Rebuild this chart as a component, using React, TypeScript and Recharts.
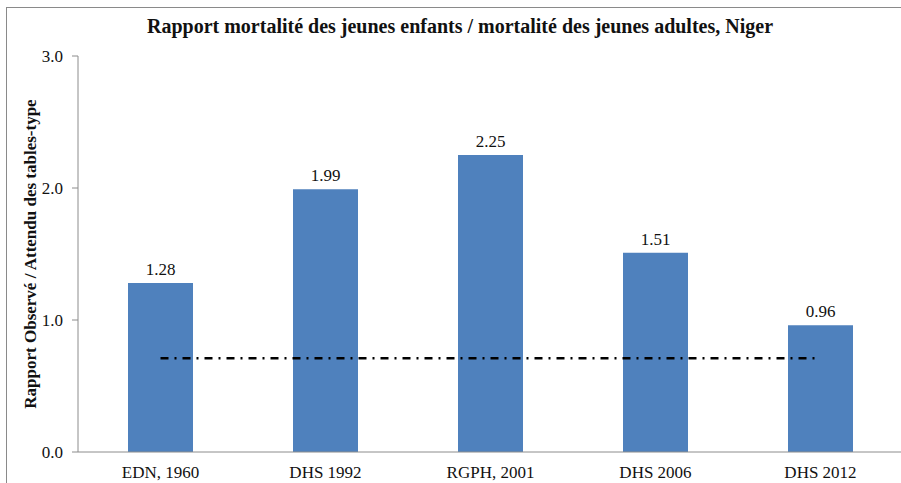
import { ComposedChart, Bar, Line, XAxis, YAxis, LabelList, Label } from "recharts";

const categories = ["EDN, 1960", "DHS 1992", "RGPH, 2001", "DHS 2006", "DHS 2012"];
const ratios = [1.28, 1.99, 2.25, 1.51, 0.96];
const expected = [0.71, 0.71, 0.71, 0.71, 0.71];
const yTicks = [0, 1, 2, 3];
const boundaryTicks = [0, 1, 2, 3, 4, 5];

const data = categories.map((name, i) => ({ name, ratio: ratios[i], expected: expected[i] }));

const serif = "Liberation Serif";

export default function App() {
  return (
    <div style={{ position: "fixed", left: 0, top: 0, width: 901, height: 483, overflow: "hidden", background: "#fff", fontFamily: serif }}>
      <div style={{ position: "absolute", left: 6, top: 7, width: 1000, height: 600, border: "1px solid #8a8a8a" }} />
      <div style={{ position: "absolute", left: 0, width: 920, top: 15, textAlign: "center", fontWeight: "bold", fontSize: 20, color: "#111" }}>
        Rapport mortalité des jeunes enfants / mortalité des jeunes adultes, Niger
      </div>
      <ComposedChart
        width={910}
        height={483}
        data={data}
        margin={{ top: 56, right: 7, bottom: 1, left: 0 }}
        style={{ position: "absolute", left: 0, top: 0, fontFamily: serif }}
      >
        <XAxis
          dataKey="name"
          height={30}
          axisLine={{ stroke: "#8c8c8c" }}
          tickLine={false}
          tick={{ fontSize: 17, fill: "#111", fontFamily: serif }}
          tickMargin={8}
        />
        <XAxis
          xAxisId="edges"
          type="number"
          domain={[0, 5]}
          ticks={boundaryTicks}
          axisLine={false}
          tick={false}
          tickLine={{ stroke: "#8c8c8c" }}
          tickSize={6}
          height={0}
        />
        <YAxis
          width={78}
          domain={[0, 3]}
          ticks={yTicks}
          tickFormatter={(v: number) => v.toFixed(1)}
          axisLine={{ stroke: "#8c8c8c" }}
          tickLine={{ stroke: "#8c8c8c" }}
          tickSize={6}
          tickMargin={9}
          tick={{ fontSize: 17, fill: "#111", fontFamily: serif }}
        >
          <Label
            value="Rapport Observé / Attendu des tables-type"
            angle={-90}
            position="center"
            dx={-9}
            style={{ fontWeight: "bold", fontSize: 17, fill: "#111", fontFamily: serif }}
          />
        </YAxis>
        <Bar dataKey="ratio" fill="#4F81BD" barSize={65} isAnimationActive={false}>
          <LabelList dataKey="ratio" position="top" offset={8} style={{ fontSize: 17, fill: "#111", fontFamily: serif }} />
        </Bar>
        <Line
          dataKey="expected"
          type="linear"
          stroke="#000"
          strokeWidth={2.5}
          strokeDasharray="8 6 2 6"
          dot={false}
          activeDot={false}
          isAnimationActive={false}
        />
      </ComposedChart>
    </div>
  );
}
